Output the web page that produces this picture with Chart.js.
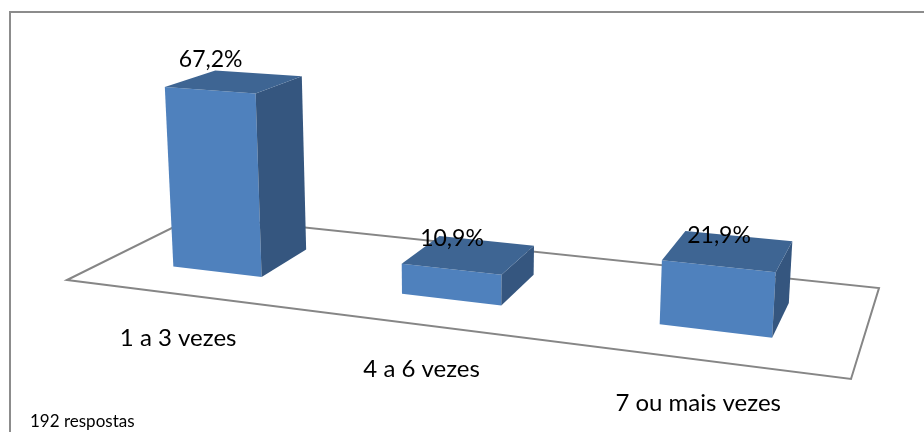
<!DOCTYPE html>
<html>
<head>
<meta charset="utf-8">
<script src="https://cdn.jsdelivr.net/npm/chart.js@4.4.1/dist/chart.umd.min.js"></script>
<style>
html, body { margin: 0; padding: 0; background: #fff; }
#wrap { width: 924px; height: 432px; }
</style>
</head>
<body>
<div id="wrap"><canvas id="chart_frequencia" width="924" height="432"></canvas></div>
<script>
var categorias = ["1 a 3 vezes", "4 a 6 vezes", "7 ou mais vezes"];
var percentuais = [67.2, 10.9, 21.9];
var textoRespostas = "192 respostas";
var eixoMax = 80;

// floor of the 3d plot: front-left, front-right, back-right, back-left
var piso = [[67, 280], [851, 379], [879, 288], [196, 216]];
// projected "up" vector for the full axis height (homogeneous)
var vetorAltura = [-16.4, -222.9, -0.036];
// bars take the middle of the floor depth (gap depth 150%)
var profundidade = [0.3, 0.7];

var corFrente = "#4f81bd";
var corLado = "#35567f";
var corTopo = "#3e6593";
var fonte = "Lato, 'Open Sans', sans-serif";

function montaHomografia(q){
  var x0=q[0][0], y0=q[0][1], x1=q[1][0], y1=q[1][1];
  var x2=q[2][0], y2=q[2][1], x3=q[3][0], y3=q[3][1];
  var dx1=x1-x2, dx2=x3-x2, dx3=x0-x1+x2-x3;
  var dy1=y1-y2, dy2=y3-y2, dy3=y0-y1+y2-y3;
  var den=dx1*dy2-dx2*dy1;
  var g=(dx3*dy2-dx2*dy3)/den;
  var h=(dx1*dy3-dx3*dy1)/den;
  return {a:x1-x0+g*x1, b:x3-x0+h*x3, c:x0, d:y1-y0+g*y1, e:y3-y0+h*y3, f:y0, g:g, h:h};
}

var H = montaHomografia(piso);

// u: 0..1 along categories, v: 0..1 depth (front to back), z: 0..1 of axis height
function projeta(u, v, z){
  var X = H.a*u + H.b*v + H.c + z*vetorAltura[0];
  var Y = H.d*u + H.e*v + H.f + z*vetorAltura[1];
  var W = H.g*u + H.h*v + 1 + z*vetorAltura[2];
  return [X/W, Y/W];
}

function poligono(ctx, pts, cor){
  ctx.beginPath();
  ctx.moveTo(pts[0][0], pts[0][1]);
  for (var i=1; i<pts.length; i++) ctx.lineTo(pts[i][0], pts[i][1]);
  ctx.closePath();
  ctx.fillStyle = cor;
  ctx.fill();
}

function formata(v){
  return v.toFixed(1).replace(".", ",") + "%";
}

var plugin3d = {
  id: "barras3d",
  beforeDatasetsDraw: function(chart){
    var ctx = chart.ctx;
    ctx.save();
    // frame
    ctx.strokeStyle = "#8c8c8c";
    ctx.lineWidth = 2;
    ctx.beginPath();
    ctx.moveTo(10, chart.height);
    ctx.lineTo(10, 12);
    ctx.lineTo(chart.width, 12);
    ctx.stroke();
    // floor
    var c = [projeta(0,0,0), projeta(1,0,0), projeta(1,1,0), projeta(0,1,0)];
    ctx.beginPath();
    ctx.moveTo(c[0][0], c[0][1]);
    for (var i=1; i<4; i++) ctx.lineTo(c[i][0], c[i][1]);
    ctx.closePath();
    ctx.lineWidth = 2;
    ctx.strokeStyle = "#868686";
    ctx.stroke();
    ctx.restore();
  },
  afterDatasetsDraw: function(chart){
    var ctx = chart.ctx;
    var area = chart.chartArea;
    var yScale = chart.scales.y;
    var base = yScale.getPixelForValue(0);
    var topo = yScale.getPixelForValue(eixoMax);
    var meta = chart.getDatasetMeta(0);
    var v0 = profundidade[0], v1 = profundidade[1];

    ctx.save();
    meta.data.forEach(function(bar, i){
      var u0 = (bar.x - bar.width/2 - area.left) / area.width;
      var u1 = (bar.x + bar.width/2 - area.left) / area.width;
      var uc = (bar.x - area.left) / area.width;
      var z = (base - bar.y) / (base - topo);

      poligono(ctx, [projeta(u0,v0,0), projeta(u1,v0,0), projeta(u1,v0,z), projeta(u0,v0,z)], corFrente);
      poligono(ctx, [projeta(u1,v0,0), projeta(u1,v1,0), projeta(u1,v1,z), projeta(u1,v0,z)], corLado);
      poligono(ctx, [projeta(u0,v0,z), projeta(u1,v0,z), projeta(u1,v1,z), projeta(u0,v1,z)], corTopo);

      ctx.fillStyle = "#000";
      ctx.textAlign = "center";
      ctx.textBaseline = "middle";
      ctx.font = "23px " + fonte;
      var pv = projeta(uc, v0, z);
      ctx.fillText(formata(percentuais[i]), pv[0] + 1, pv[1] - 31);

      ctx.font = "24px " + fonte;
      var pc = projeta(uc, 0, 0);
      ctx.fillText(categorias[i], pc[0], pc[1] + 44);
    });

    ctx.font = "17px " + fonte;
    ctx.textAlign = "left";
    ctx.textBaseline = "middle";
    ctx.fillText(textoRespostas, 30, 422);
    ctx.restore();
  }
};

var config = {
  type: "bar",
  data: {
    labels: categorias,
    datasets: [{
      data: percentuais,
      backgroundColor: "rgba(0,0,0,0)",
      borderWidth: 0,
      barPercentage: 0.4,
      categoryPercentage: 1
    }]
  },
  options: {
    responsive: false,
    animation: false,
    devicePixelRatio: 1,
    layout: { padding: 0 },
    plugins: {
      legend: { display: false },
      tooltip: { enabled: false }
    },
    scales: {
      x: { display: false, offset: true },
      y: { display: false, min: 0, max: eixoMax }
    }
  },
  plugins: [plugin3d]
};

new Chart(document.getElementById("chart_frequencia").getContext("2d"), config);
</script>
</body>
</html>
